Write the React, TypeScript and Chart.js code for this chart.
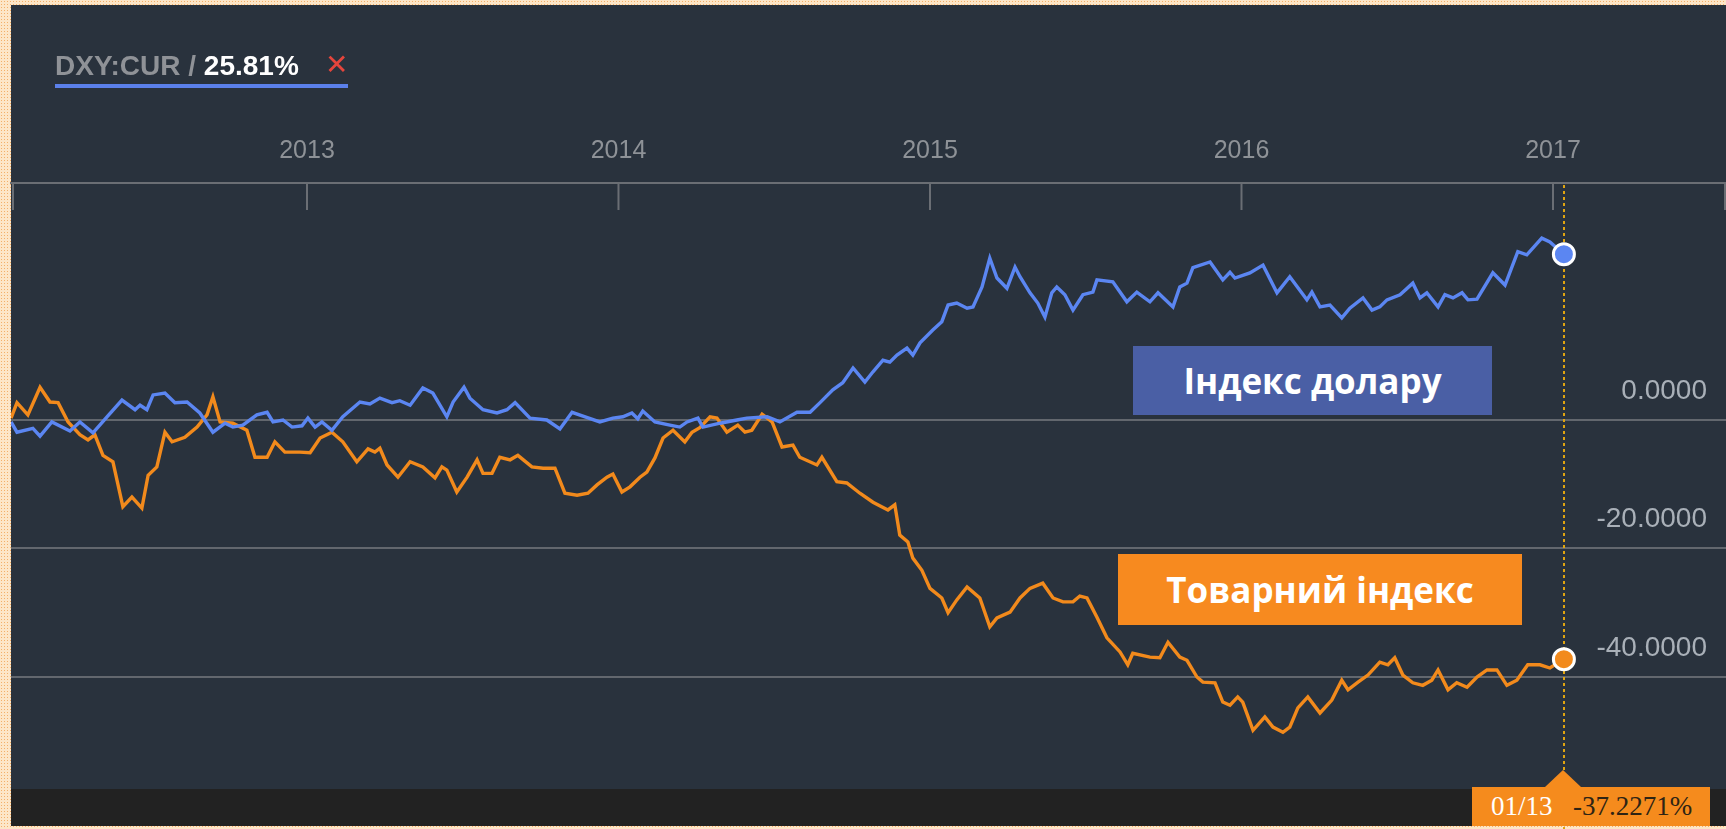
import React, { useEffect, useRef } from "react";
import { Chart, registerables } from "chart.js";

Chart.register(...registerables);

// ---- Data ----
const yearTicks = [2013, 2014, 2015, 2016, 2017];
const yTicks = [0, -20, -40];

const dxyYears = [
  2012.050, 2012.069, 2012.120, 2012.143, 2012.181, 2012.239, 2012.271, 2012.313, 2012.358, 2012.406,
  2012.448, 2012.464, 2012.486, 2012.506, 2012.544, 2012.576, 2012.615, 2012.656, 2012.698, 2012.737,
  2012.762, 2012.794, 2012.839, 2012.872, 2012.891, 2012.923, 2012.952, 2012.984, 2013.003, 2013.026,
  2013.048, 2013.080, 2013.115, 2013.170, 2013.202, 2013.234, 2013.273, 2013.298, 2013.331, 2013.372,
  2013.404, 2013.449, 2013.469, 2013.504, 2013.523, 2013.565, 2013.610, 2013.642, 2013.668, 2013.716,
  2013.770, 2013.812, 2013.851, 2013.886, 2013.940, 2013.982, 2014.014, 2014.043, 2014.062, 2014.078,
  2014.117, 2014.165, 2014.197, 2014.220, 2014.255, 2014.271, 2014.326, 2014.380, 2014.412, 2014.477,
  2014.518, 2014.573, 2014.615, 2014.647, 2014.688, 2014.720, 2014.753, 2014.791, 2014.817, 2014.849,
  2014.871, 2014.894, 2014.926, 2014.945, 2014.968, 2015.009, 2015.038, 2015.058, 2015.086, 2015.119,
  2015.138, 2015.167, 2015.192, 2015.215, 2015.247, 2015.273, 2015.289, 2015.321, 2015.346, 2015.369,
  2015.391, 2015.407, 2015.433, 2015.459, 2015.491, 2015.523, 2015.536, 2015.587, 2015.632, 2015.664,
  2015.706, 2015.732, 2015.780, 2015.802, 2015.825, 2015.844, 2015.899, 2015.940, 2015.963, 2015.979,
  2016.027, 2016.069, 2016.114, 2016.155, 2016.210, 2016.226, 2016.252, 2016.284, 2016.322, 2016.348,
  2016.390, 2016.419, 2016.444, 2016.467, 2016.509, 2016.550, 2016.573, 2016.595, 2016.631, 2016.653,
  2016.679, 2016.708, 2016.727, 2016.756, 2016.807, 2016.846, 2016.887, 2016.916, 2016.964, 2016.990,
  2017.035,
];
const dxyValues = [
  -0.3, -1.9, -1.3, -2.5, -0.3, -1.7, -0.3, -2.0, 0.5, 3.1,
  1.6, 2.3, 1.6, 3.9, 4.2, 2.7, 2.8, 1.1, -1.9, -0.5,
  -1.1, -0.8, 0.8, 1.2, -0.3, 0.0, -1.1, -0.9, 0.3, -1.1,
  -0.3, -1.6, 0.5, 2.8, 2.5, 3.4, 2.7, 3.0, 2.3, 5.0,
  4.2, 0.5, 2.8, 5.1, 3.4, 1.6, 1.1, 1.6, 2.7, 0.3,
  0.0, -1.4, 1.2, 0.6, -0.3, 0.3, 0.5, 1.1, 0.2, 1.4,
  -0.3, -0.8, -1.1, -0.3, 0.3, -1.1, -0.5, 0.0, 0.3, 0.5,
  -0.3, 1.2, 1.2, 2.7, 4.7, 5.8, 8.1, 5.9, 7.5, 9.3,
  9.0, 10.1, 11.2, 10.1, 12.0, 14.0, 15.3, 17.9, 18.2, 17.4,
  17.6, 20.7, 25.2, 22.1, 20.5, 23.8, 22.3, 19.8, 18.2, 16.0,
  19.8, 20.7, 19.5, 17.1, 19.5, 19.9, 21.8, 21.5, 18.4, 19.9,
  18.4, 19.8, 17.6, 20.7, 21.3, 23.7, 24.6, 21.8, 23.0, 22.1,
  22.9, 24.1, 19.8, 22.3, 18.7, 19.9, 17.6, 17.9, 15.9, 17.4,
  19.0, 17.1, 17.6, 18.7, 19.5, 21.3, 19.0, 19.8, 17.6, 19.5,
  19.0, 19.8, 18.7, 18.8, 22.9, 21.0, 26.2, 25.7, 28.3, 27.7,
  25.81,
];

const cmdtyYears = [
  2012.050, 2012.069, 2012.104, 2012.143, 2012.175, 2012.201, 2012.233, 2012.271, 2012.297, 2012.319,
  2012.345, 2012.377, 2012.409, 2012.438, 2012.470, 2012.490, 2012.518, 2012.544, 2012.567, 2012.608,
  2012.647, 2012.679, 2012.698, 2012.721, 2012.762, 2012.807, 2012.833, 2012.872, 2012.897, 2012.929,
  2012.977, 2013.010, 2013.042, 2013.080, 2013.115, 2013.160, 2013.196, 2013.218, 2013.234, 2013.257,
  2013.292, 2013.331, 2013.372, 2013.411, 2013.433, 2013.449, 2013.481, 2013.514, 2013.546, 2013.565,
  2013.594, 2013.619, 2013.652, 2013.677, 2013.722, 2013.758, 2013.796, 2013.828, 2013.867, 2013.902,
  2013.931, 2013.963, 2013.982, 2014.011, 2014.037, 2014.069, 2014.091, 2014.117, 2014.143, 2014.175,
  2014.213, 2014.236, 2014.261, 2014.294, 2014.316, 2014.348, 2014.383, 2014.406, 2014.428, 2014.461,
  2014.493, 2014.525, 2014.560, 2014.582, 2014.637, 2014.653, 2014.701, 2014.733, 2014.775, 2014.817,
  2014.865, 2014.887, 2014.903, 2014.929, 2014.945, 2014.974, 2015.000, 2015.038, 2015.058, 2015.086,
  2015.119, 2015.160, 2015.192, 2015.215, 2015.257, 2015.289, 2015.321, 2015.362, 2015.395, 2015.427,
  2015.459, 2015.481, 2015.504, 2015.536, 2015.568, 2015.610, 2015.635, 2015.651, 2015.706, 2015.738,
  2015.764, 2015.802, 2015.825, 2015.857, 2015.876, 2015.915, 2015.940, 2015.963, 2015.988, 2016.004,
  2016.037, 2016.075, 2016.101, 2016.133, 2016.155, 2016.181, 2016.213, 2016.252, 2016.290, 2016.322,
  2016.342, 2016.374, 2016.406, 2016.444, 2016.470, 2016.492, 2016.518, 2016.550, 2016.582, 2016.611,
  2016.631, 2016.663, 2016.691, 2016.724, 2016.756, 2016.788, 2016.820, 2016.852, 2016.884, 2016.919,
  2016.958, 2016.990, 2017.035,
];
const cmdtyValues = [
  0.3, 2.7, 0.8, 5.1, 2.8, 2.7, -0.3, -2.3, -3.1, -2.3,
  -5.5, -6.5, -13.5, -12.0, -13.7, -8.6, -7.3, -1.9, -3.4, -2.7,
  -1.1, 0.8, 3.6, -0.3, -0.5, -1.6, -5.8, -5.8, -3.4, -5.0,
  -5.0, -5.1, -2.8, -1.9, -3.4, -6.5, -4.5, -5.0, -4.4, -7.0,
  -8.9, -6.5, -7.3, -9.0, -7.3, -7.8, -11.2, -8.9, -6.2, -8.3,
  -8.3, -5.8, -6.2, -5.5, -7.3, -7.5, -7.5, -11.4, -11.7, -11.4,
  -10.1, -8.9, -8.4, -11.2, -10.4, -8.9, -8.1, -5.9, -2.8, -1.6,
  -3.4, -1.9, -1.2, 0.5, 0.3, -1.9, -0.8, -1.9, -1.6, 0.9,
  -0.3, -4.2, -3.9, -5.8, -7.0, -5.8, -9.6, -9.8, -11.4, -12.8,
  -14.0, -13.2, -17.9, -19.0, -21.5, -23.4, -26.2, -27.7, -30.0, -28.0,
  -26.0, -27.7, -32.2, -30.8, -29.9, -27.7, -26.2, -25.4, -27.7, -28.3,
  -28.3, -27.4, -27.7, -30.7, -33.9, -36.1, -38.1, -36.3, -36.9, -37.0,
  -34.6, -36.9, -37.4, -40.0, -40.8, -40.9, -43.9, -44.4, -43.1, -43.9,
  -48.3, -46.2, -47.8, -48.6, -47.8, -44.8, -43.1, -45.6, -43.6, -40.5,
  -42.0, -40.8, -39.7, -37.7, -38.1, -37.0, -39.7, -40.9, -41.3, -40.5,
  -38.9, -42.0, -40.9, -41.6, -40.0, -38.9, -38.9, -41.3, -40.5, -38.1,
  -38.1, -38.6, -37.2271,
];

const legendSymbol = "DXY:CUR";
const legendValue = "25.81%";
const dollarLabel = "Індекс долару";
const commodityLabel = "Товарний індекс";
const tooltipDate = "01/13";
const tooltipValue = "-37.2271%";
const lastDate = 2017.035;

// ---- Styles ----
const X_MIN = 2012.0498;
const X_MAX = 2017.5554;
const Y_MAX = 36.887;
const Y_MIN = -58.366;
const BLUE = "#5b86f2";
const ORANGE = "#f28a1c";
const PANEL = "#29323d";
const AXIS = "#6a6e74";
const GRID = "#62676e";
const SANS = '"Liberation Sans", Arial, sans-serif';

const decorPlugin = {
  id: "decor",
  beforeDatasetsDraw(chart: any) {
    const { ctx, chartArea } = chart;
    const x = chart.scales.x;
    ctx.save();
    ctx.strokeStyle = AXIS;
    ctx.lineWidth = 2;
    const xs = [chartArea.left + 2, ...x.ticks.map((t: any) => x.getPixelForValue(t.value)), chartArea.right - 1];
    xs.forEach((px: number) => {
      ctx.beginPath();
      ctx.moveTo(px, chartArea.top);
      ctx.lineTo(px, chartArea.top + 27);
      ctx.stroke();
    });
    const lx = Math.round(x.getPixelForValue(lastDate));
    ctx.strokeStyle = "#e0a410";
    ctx.lineWidth = 2;
    ctx.setLineDash([3, 3]);
    ctx.beginPath();
    ctx.moveTo(lx, chartArea.top + 2);
    ctx.lineTo(lx, chart.height);
    ctx.stroke();
    ctx.restore();
  },
};

function lastPointRadius(len: number) {
  return (c: any) => (c.dataIndex === len - 1 ? 10.5 : 0);
}

export default function App() {
  const ref = useRef<HTMLCanvasElement | null>(null);

  useEffect(() => {
    document.body.style.margin = "0";
    const canvas = ref.current;
    if (!canvas) return;
    const chart = new Chart(canvas, {
      type: "line",
      data: {
        datasets: [
          {
            label: "DXY",
            data: dxyYears.map((yr, i) => ({ x: yr, y: dxyValues[i] })),
            borderColor: BLUE,
            borderWidth: 3.4,
            pointRadius: lastPointRadius(dxyYears.length),
            pointBackgroundColor: BLUE,
            pointBorderColor: "#ffffff",
            pointBorderWidth: 3,
            tension: 0,
          },
          {
            label: "Commodity",
            data: cmdtyYears.map((yr, i) => ({ x: yr, y: cmdtyValues[i] })),
            borderColor: ORANGE,
            borderWidth: 3.4,
            pointRadius: lastPointRadius(cmdtyYears.length),
            pointBackgroundColor: ORANGE,
            pointBorderColor: "#ffffff",
            pointBorderWidth: 3,
            tension: 0,
          },
        ],
      },
      options: {
        animation: false,
        responsive: false,
        maintainAspectRatio: false,
        devicePixelRatio: 1,
        events: [],
        layout: { autoPadding: false, padding: { left: 11, right: 0, top: 117, bottom: 34 } },
        plugins: { legend: { display: false }, tooltip: { enabled: false } },
        scales: {
          x: {
            type: "linear",
            position: "top",
            min: X_MIN,
            max: X_MAX,
            afterBuildTicks: (s: any) => {
              s.ticks = yearTicks.map((v) => ({ value: v }));
            },
            afterFit: (s: any) => {
              s.height = 66;
              s.paddingLeft = 0;
              s.paddingRight = 0;
            },
            grid: { display: false },
            border: { display: true, color: AXIS, width: 2 },
            ticks: {
              padding: 9,
              color: "#8e9297",
              autoSkip: false,
              maxRotation: 0,
              font: { family: SANS, size: 25 },
              callback: (v: any) => String(v),
            },
          },
          y: {
            type: "linear",
            position: "right",
            min: Y_MIN,
            max: Y_MAX,
            afterBuildTicks: (s: any) => {
              s.ticks = yTicks.map((v) => ({ value: v }));
            },
            afterFit: (s: any) => {
              s.width = 0;
              s.paddingTop = 0;
              s.paddingBottom = 0;
            },
            grid: { color: GRID, lineWidth: 2, drawTicks: false },
            border: { display: false },
            ticks: {
              mirror: true,
              padding: -19,
              labelOffset: -29,
              color: "#a9b0b8",
              font: { family: SANS, size: 28 },
              callback: (v: any) => Number(v).toFixed(4),
            },
          },
        },
      },
      plugins: [decorPlugin],
    } as any);
    return () => chart.destroy();
  }, []);

  return (
    <div
      style={{
        position: "relative",
        width: 1726,
        height: 829,
        overflow: "hidden",
        background: "radial-gradient(#f3b06a 1px, #fde6c8 1px)",
        backgroundSize: "3px 3px",
      }}
    >
      <div style={{ position: "absolute", left: 11, top: 5, width: 1715, height: 821, background: PANEL }} />
      <div style={{ position: "absolute", left: 11, top: 789, width: 1715, height: 37, background: "#222222" }} />
      <canvas
        ref={ref}
        width={1726}
        height={829}
        style={{ position: "absolute", left: 0, top: 0, width: 1726, height: 829 }}
      />
      <div
        style={{
          position: "absolute",
          left: 55,
          top: 52,
          font: `bold 28px ${SANS}`,
          lineHeight: "28px",
          whiteSpace: "nowrap",
          color: "#8f9297",
        }}
      >
        {legendSymbol} / <span style={{ color: "#ffffff" }}>{legendValue}</span>
      </div>
      <div
        style={{
          position: "absolute",
          left: 325,
          top: 50,
          color: "#e5453c",
          font: `normal 28px "DejaVu Sans", sans-serif`,
          lineHeight: "30px",
        }}
      >
        ✕
      </div>
      <div style={{ position: "absolute", left: 55, top: 84, width: 293, height: 4, background: "#5b80ea" }} />
      <div
        style={{
          position: "absolute",
          left: 1133,
          top: 346,
          width: 359,
          height: 69,
          background: "#4a5fa5",
          color: "#ffffff",
          font: `700 35px "Open Sans", sans-serif`,
          lineHeight: "69px",
          textAlign: "center",
          whiteSpace: "nowrap",
        }}
      >
        {dollarLabel}
      </div>
      <div
        style={{
          position: "absolute",
          left: 1118,
          top: 554,
          width: 404,
          height: 71,
          background: "#f78a1f",
          color: "#ffffff",
          font: `700 35px "Open Sans", sans-serif`,
          lineHeight: "71px",
          textAlign: "center",
          whiteSpace: "nowrap",
        }}
      >
        {commodityLabel}
      </div>
      <div
        style={{
          position: "absolute",
          left: 1545,
          top: 770,
          width: 0,
          height: 0,
          borderLeft: "18px solid transparent",
          borderRight: "18px solid transparent",
          borderBottom: "17px solid #f58b1d",
        }}
      />
      <div
        style={{
          position: "absolute",
          left: 1472,
          top: 787,
          width: 238,
          height: 39,
          background: "#f58b1d",
          font: `27px "Liberation Serif", "Times New Roman", serif`,
          lineHeight: "39px",
          whiteSpace: "nowrap",
        }}
      >
        <span style={{ position: "absolute", left: 19, color: "#ffffff" }}>{tooltipDate}</span>
        <span style={{ position: "absolute", left: 101, color: "#2e2414" }}>{tooltipValue}</span>
      </div>
    </div>
  );
}
